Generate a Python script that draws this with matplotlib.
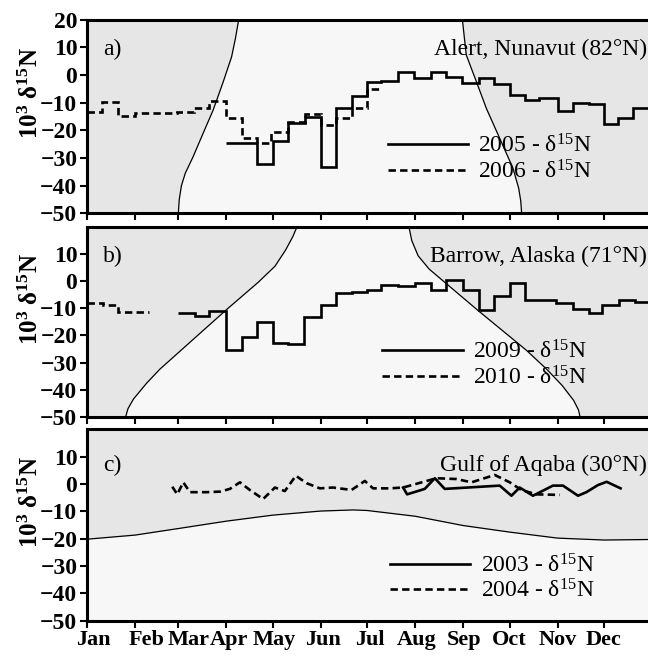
import matplotlib
matplotlib.use('Agg')
import matplotlib.pyplot as plt
from matplotlib.transforms import ScaledTranslation

plt.rcParams['font.family'] = ['Liberation Serif', 'DejaVu Serif']
plt.rcParams['mathtext.fontset'] = 'custom'
plt.rcParams['mathtext.rm'] = 'Liberation Serif'
plt.rcParams['mathtext.bf'] = 'Liberation Serif:bold'
plt.rcParams['mathtext.default'] = 'regular'

# x axis = day of year (0 = 1 Jan)
MONTHS = ['Jan', 'Feb', 'Mar', 'Apr', 'May', 'Jun', 'Jul', 'Aug', 'Sep', 'Oct', 'Nov', 'Dec']
MONTH_START = [0, 31, 59, 90, 120, 151, 181, 212, 243, 273, 304, 334]

# a) Alert, Nunavut - stepped series (bin edges in days, values)
alert_2005_edges = [90, 110, 120, 130, 141, 151, 161, 171, 181, 190, 201, 211, 222, 232, 242,
                    253, 263, 273, 283, 292, 304, 314, 324, 334, 343, 353, 365]
alert_2005_vals = [-24.7, -32.3, -23.8, -17.5, -15.1, -33.1, -12.1, -7.5, -2.7, -2.2, 0.9, -1.0,
                   1.2, -0.6, -3.0, -1.2, -3.4, -7.3, -9.1, -8.5, -13.0, -10.0, -10.5, -17.7,
                   -15.7, -12.1]
alert_2006_edges = [0, 9.5, 20, 31, 58, 69, 79, 90, 100, 110, 119, 130, 141, 151, 161, 171, 181, 190]
alert_2006_vals = [-13.5, -9.9, -14.7, -13.9, -13.5, -11.8, -9.4, -15.7, -22.9, -24.7, -20.7,
                   -17.1, -14.1, -18.1, -15.7, -12.0, -5.1]
# daylight boundary
alert_rise_day = [59, 59.6, 61, 63.5, 68.6, 75, 81.5, 88, 93.4, 96, 98]
alert_rise_val = [-50, -45, -40, -35.5, -29.5, -21.1, -12.7, -2.5, 6.5, 13.5, 20]
alert_set_day = [242.5, 245, 251.6, 258, 266.6, 275.2, 278.9, 280.2, 280.8]
alert_set_val = [20, 7.2, -2.5, -12.1, -22.9, -33.7, -41, -45.5, -50]

# b) Barrow, Alaska
barrow_2009_edges = [59, 70, 79, 90, 100, 110, 120, 130, 140, 151, 161, 171, 181, 190, 201, 212,
                     222, 232, 243, 253, 263, 273, 283, 303, 314, 324, 333, 344, 354, 365]
barrow_2009_vals = [-11.6, -13.0, -11.1, -25.2, -20.6, -15.1, -22.7, -23.3, -13.2, -8.9, -4.3,
                    -3.8, -3.2, -1.3, -1.8, -0.7, -3.1, 0.6, -3.1, -10.8, -5.3, -0.7, -7.1, -8.1,
                    -10.2, -11.6, -8.7, -6.8, -7.7]
barrow_2010_edges = [0, 10.5, 20, 40]
barrow_2010_vals = [-8.1, -8.9, -11.4]
barrow_rise_day = [25, 26.5, 30, 38.4, 47, 56.8, 90.1, 110.6, 121.4, 128.3, 133, 135.6]
barrow_rise_val = [-50, -47, -43.5, -37.7, -32.5, -27.5, -10.5, -0.4, 5.5, 11.5, 16.5, 20]
barrow_set_day = [208, 209.8, 213.9, 221, 231.1, 252.6, 283.9, 297, 307, 314.4, 317.5, 318.5]
barrow_set_val = [20, 15, 9.4, 4.5, -0.4, -10.8, -25.5, -32.5, -38.5, -44, -47.5, -50]

# c) Gulf of Aqaba
aqaba_2003_day = [204.2, 206.8, 218.2, 224.7, 231.1, 266.6, 274.2, 279.5, 288.1, 301, 307.5,
                  317.2, 322.6, 330.1, 335.7, 344.7]
aqaba_2003_val = [-1.3, -3.8, -1.8, 2.1, -1.8, -0.6, -4.3, -1.3, -4.3, -0.6, -0.6, -4.3, -3.0,
                  -0.4, 0.8, -1.6]
aqaba_2004_day = [55.1, 58.3, 62.2, 66.5, 77.3, 85.9, 92.3, 98.8, 105.2, 113.8, 121.4, 127.8,
                  134.9, 141.8, 150.4, 159, 170.9, 179.5, 184.8, 195.6, 204.2, 225.8, 238.7,
                  248.4, 263.4, 273.1, 280.6, 290.3, 305.4]
aqaba_2004_val = [-1.0, -3.8, 0.6, -3.0, -3.0, -2.8, -1.8, 0.6, -2.2, -5.5, -1.3, -2.6, 3.0, 0.3,
                  -1.6, -1.3, -2.2, 1.1, -1.6, -1.6, -1.3, 2.1, 1.8, 0.6, 3.3, 0.6, -2.2, -3.8,
                  -4.0]
aqaba_curve_day = [0, 31, 59, 90, 120, 151, 172, 181, 212, 243, 273, 304, 334, 365]
aqaba_curve_val = [-20.2, -18.7, -16.3, -13.6, -11.4, -9.9, -9.5, -9.7, -11.8, -15.2, -17.6,
                   -19.8, -20.5, -20.3]

DARK = '#e6e6e6'
LIGHT = '#f7f7f7'
DASH = (0, (2.8, 1.6))
LW = 1.9
MONTH_SHIFT = [6, 12, 10, 3, 1, 2, 3, 1, 1, 0, 0, 0]   # px, labels sit a bit right of ticks


def setup_axes(ax, yticks, show_months):
    ax.set_facecolor(DARK)
    ax.set_xlim(0, 365)
    ax.set_ylim(-50, 20)
    ax.set_xticks(MONTH_START)
    ax.set_yticks(yticks)
    ax.tick_params(direction='out', length=5, width=1.5, labelsize=17, pad=2)
    for s in ax.spines.values():
        s.set_linewidth(2.2)
    for lbl in ax.get_yticklabels():
        lbl.set_fontweight('bold')
    if show_months:
        ax.set_xticklabels(MONTHS, fontsize=16, fontweight='bold')
        for lbl, dx in zip(ax.get_xticklabels(), MONTH_SHIFT):
            lbl.set_transform(lbl.get_transform() + ScaledTranslation(dx / 100, 0, ax.figure.dpi_scale_trans))
    else:
        ax.set_xticklabels([])
    ax.set_ylabel('10$^{3}$ δ$^{15}$N', fontsize=18, fontweight='bold')
    ax.yaxis.set_label_coords(-0.077, 0.62)


def light_region(ax, rise_d, rise_v, set_d, set_v):
    xs = list(rise_d) + list(set_d)
    ys = list(rise_v) + list(set_v)
    ax.fill(xs, ys, color=LIGHT, lw=0, zorder=0.5)
    ax.plot(rise_d, rise_v, color='k', lw=0.9, zorder=1)
    ax.plot(set_d, set_v, color='k', lw=0.9, zorder=1)


def add_legend(ax, x, y):
    ax.legend(loc='center left', bbox_to_anchor=(x, y), frameon=False, fontsize=17,
              handlelength=3.4, handletextpad=0.45, borderpad=0, borderaxespad=0,
              labelspacing=0.1)


def add_titles(ax, tag, name, y):
    ax.text(0.028, y, tag, transform=ax.transAxes, fontsize=17, va='center')
    ax.text(0.991, y, name, transform=ax.transAxes, fontsize=17, va='center', ha='right')


fig = plt.figure(figsize=(6.48, 6.58), dpi=100)
left, width = 87 / 648, 565 / 648
ax_a = fig.add_axes([left, 0.6758, width, 0.2945])
ax_b = fig.add_axes([left, 0.3667, width, 0.2883])
ax_c = fig.add_axes([left, 0.0567, width, 0.2909])

# --- a) Alert
setup_axes(ax_a, range(-50, 21, 10), False)
light_region(ax_a, alert_rise_day, alert_rise_val, alert_set_day, alert_set_val)
ax_a.stairs(alert_2005_vals, alert_2005_edges, baseline=None, color='k', lw=LW,
            label='2005 - δ$^{15}$N', zorder=3)
ax_a.stairs(alert_2006_vals, alert_2006_edges, baseline=None, color='k', lw=LW,
            linestyle=DASH, label='2006 - δ$^{15}$N', zorder=3)
add_titles(ax_a, 'a)', 'Alert, Nunavut (82°N)', 0.848)
add_legend(ax_a, 0.532, 0.282)

# --- b) Barrow
setup_axes(ax_b, range(-50, 11, 10), False)
light_region(ax_b, barrow_rise_day, barrow_rise_val, barrow_set_day, barrow_set_val)
ax_b.stairs(barrow_2009_vals, barrow_2009_edges, baseline=None, color='k', lw=LW,
            label='2009 - δ$^{15}$N', zorder=3)
ax_b.stairs(barrow_2010_vals, barrow_2010_edges, baseline=None, color='k', lw=LW,
            linestyle=DASH, label='2010 - δ$^{15}$N', zorder=3)
add_titles(ax_b, 'b)', 'Barrow, Alaska (71°N)', 0.843)
add_legend(ax_b, 0.523, 0.273)

# --- c) Gulf of Aqaba
setup_axes(ax_c, range(-50, 11, 10), True)
ax_c.fill_between(aqaba_curve_day, aqaba_curve_val, -50, color=LIGHT, lw=0, zorder=0.5)
ax_c.plot(aqaba_curve_day, aqaba_curve_val, color='k', lw=0.9, zorder=1)
ax_c.plot(aqaba_2003_day, aqaba_2003_val, color='k', lw=LW, label='2003 - δ$^{15}$N', zorder=3)
ax_c.plot(aqaba_2004_day, aqaba_2004_val, color='k', lw=LW, linestyle=DASH,
          label='2004 - δ$^{15}$N', zorder=3)
add_titles(ax_c, 'c)', 'Gulf of Aqaba (30°N)', 0.813)
add_legend(ax_c, 0.536, 0.222)

fig.savefig('out.png', dpi=100)
plt.close(fig)
